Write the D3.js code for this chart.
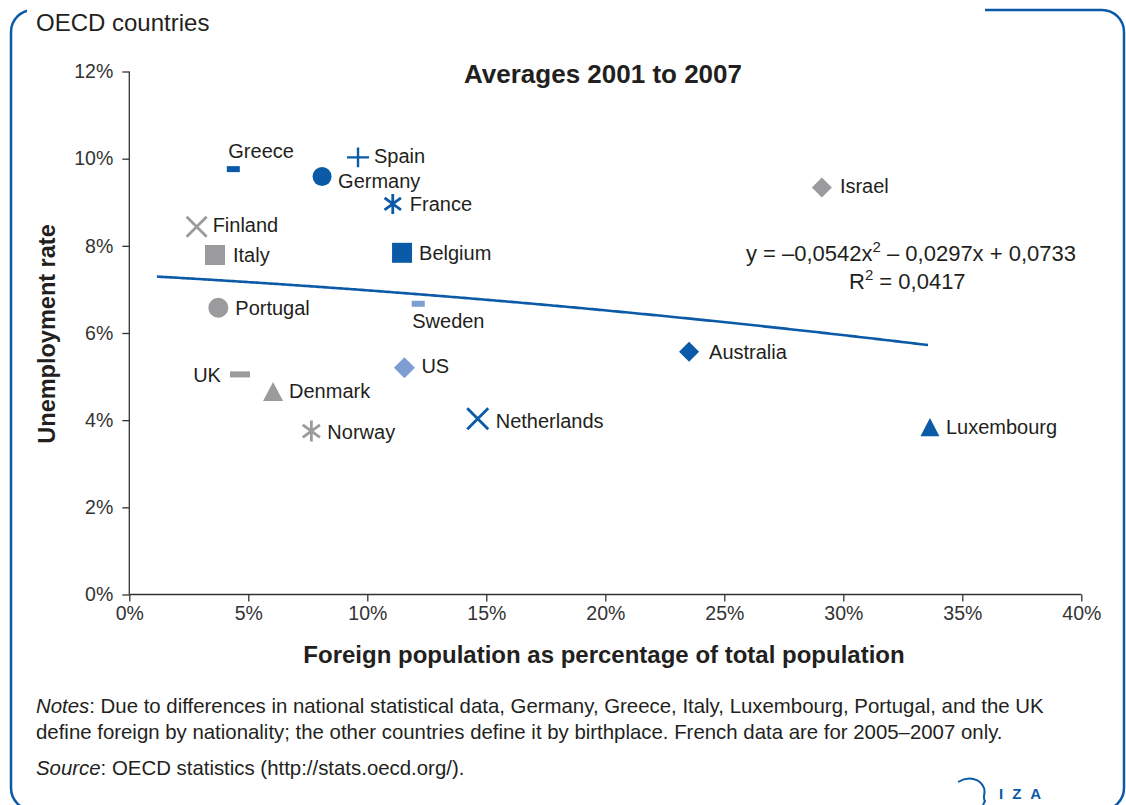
<!DOCTYPE html>
<html><head><meta charset="utf-8">
<script src="https://cdn.jsdelivr.net/npm/d3@7"></script>
<style>
html,body{margin:0;padding:0;background:#fff;}
svg text{font-family:"Liberation Sans",Arial,sans-serif;}
</style></head>
<body>
<svg id="chart" width="1126" height="805"></svg>
<script>
// ---------------- DATA ----------------
const countries = ["Greece","Spain","Germany","France","Finland","Italy","Belgium","Portugal","Sweden","UK","Denmark","US","Norway","Netherlands","Australia","Israel","Luxembourg"];
const foreignPct = [4.37, 9.61, 8.10, 11.07, 2.83, 3.60, 11.46, 3.74, 12.14, 4.65, 6.04, 11.56, 7.65, 14.64, 23.52, 29.10, 33.64];
const unemploymentPct = [9.76, 10.03, 9.59, 8.96, 8.44, 7.79, 7.84, 6.58, 6.67, 5.05, 4.66, 5.20, 3.75, 4.03, 5.57, 9.34, 3.84];
const xTickValues = [0, 5, 10, 15, 20, 25, 30, 35, 40];
const yTickValues = [0, 2, 4, 6, 8, 10, 12];
// polynomial trend (as printed on chart): y = a x^2 + b x + c (fractions)
const trendCoef = [-0.0542, -0.0297, 0.0733];
const trendRange = [1.16, 33.64];
const equationText = ["y = \u20130,0542x", "2", " \u2013 0,0297x + 0,0733"];
const r2Text = ["R", "2", " = 0,0417"];

// ---------------- STYLES ----------------
const BLUE = "#0a5aa8", GRAY = "#9b9b9d", LBLUE = "#7e9dd2", TXT = "#231f20";
const markerStyle = {
  Greece:{shape:"bar",color:BLUE,w:13,h:6},
  Spain:{shape:"plus",color:BLUE,s:11},
  Germany:{shape:"circle",color:BLUE,r:9.5},
  France:{shape:"asterisk",color:BLUE,s:10},
  Finland:{shape:"x",color:GRAY,s:10},
  Italy:{shape:"square",color:GRAY,s:20},
  Belgium:{shape:"square",color:BLUE,s:20},
  Portugal:{shape:"circle",color:GRAY,r:10},
  Sweden:{shape:"bar",color:LBLUE,w:13,h:6},
  UK:{shape:"bar",color:GRAY,w:20,h:6},
  Denmark:{shape:"triangle",color:GRAY,w:20},
  US:{shape:"diamond",color:LBLUE,s:10.5},
  Norway:{shape:"asterisk",color:GRAY,s:10.5},
  Netherlands:{shape:"x",color:BLUE,s:10.5},
  Australia:{shape:"diamond",color:BLUE,s:10},
  Israel:{shape:"diamond",color:GRAY,s:10},
  Luxembourg:{shape:"triangle",color:BLUE,w:19}
};
// label offsets relative to marker centre [dx, dy(center), anchor]
const labelPos = {
  Greece:[-5,-18,"start"], Spain:[16,-1,"start"], Germany:[16,4,"start"], France:[17,0,"start"],
  Finland:[16,-2,"start"], Italy:[18,0,"start"], Belgium:[17,0,"start"], Portugal:[17,0,"start"],
  Sweden:[-6,17,"start"], UK:[-19,1,"end"], Denmark:[16,0,"start"], US:[17,-2,"start"],
  Norway:[16,1,"start"], Netherlands:[18,2,"start"], Australia:[20,0,"start"], Israel:[18,-1,"start"],
  Luxembourg:[16,0,"start"]
};

function markerPath(st){
  switch(st.shape){
    case "bar": return `M${-st.w/2},${-st.h/2}h${st.w}v${st.h}h${-st.w}Z`;
    case "square": return `M${-st.s/2},${-st.s/2}h${st.s}v${st.s}h${-st.s}Z`;
    case "circle": { const r=st.r; return `M${r},0A${r},${r} 0 1,1 ${-r},0A${r},${r} 0 1,1 ${r},0Z`; }
    case "triangle": { const w=st.w, h=w*0.95; return `M0,${-h/2}L${w/2},${h/2}L${-w/2},${h/2}Z`; }
    case "diamond": { const s=st.s; return `M0,${-s}L${s},0L0,${s}L${-s},0Z`; }
    case "plus": { const s=st.s; return `M${-s},0H${s}M0,${-s*0.9}V${s*0.9}`; }
    case "x": { const s=st.s; return `M${-s},${-s}L${s},${s}M${-s},${s}L${s},${-s}`; }
    case "asterisk": { const s=st.s, d=s*0.82; return `M0,${-s}V${s}M${-d},${-s*0.6}L${d},${s*0.6}M${-d},${s*0.6}L${d},${-s*0.6}`; }
  }
}
const filled = sh => ["bar","square","circle","triangle","diamond"].includes(sh);

// ---------------- DRAW ----------------
const svg = d3.select("#chart");
const x = d3.scaleLinear().domain([0,40]).range([129.3,1081.3]);
const y = d3.scaleLinear().domain([0,12]).range([594.5,71.5]);

// frame
svg.append("rect").attr("x",11).attr("y",10).attr("width",1113).attr("height",800)
  .attr("rx",22).attr("ry",22).attr("fill","none").attr("stroke",BLUE).attr("stroke-width",2.5);
svg.append("rect").attr("x",27).attr("y",0).attr("width",958).attr("height",20).attr("fill","#fff");
svg.append("text").attr("x",36).attr("y",31).attr("font-size",24).attr("fill",TXT).text("OECD countries");

// logo
const logo = svg.append("g");
logo.append("path").attr("d","M958,782 C968,776 980,778 984,788 C986,794 982,797 985,801 L983,805")
  .attr("fill","none").attr("stroke",BLUE).attr("stroke-width",2);
logo.append("text").attr("x",999).attr("y",799).attr("font-size",15).attr("font-weight","bold")
  .attr("fill",BLUE).attr("letter-spacing",9).text("IZA");

// axes
const gx = svg.append("g").attr("transform",`translate(0,${y(0)})`)
  .call(d3.axisBottom(x).tickValues(xTickValues).tickSize(7).tickSizeOuter(0).tickPadding(5).tickFormat(d=>d+"%"));
const gy = svg.append("g").attr("transform",`translate(${x(0)},0)`)
  .call(d3.axisLeft(y).tickValues(yTickValues).tickSize(7).tickSizeOuter(0).tickPadding(9).tickFormat(d=>d+"%"));
[gx,gy].forEach(g=>{
  g.select(".domain").attr("stroke","#333").attr("stroke-width",1.3);
  g.selectAll(".tick line").attr("stroke","#333").attr("stroke-width",1.3);
  g.selectAll(".tick text").attr("font-size",19.5).attr("fill","#333")
    .attr("font-family","'Liberation Sans',Arial,sans-serif");
});
gx.select(".domain").attr("d",`M${x(0)},0H${x(40)}`);
gy.select(".domain").attr("d",`M0,${y(0)}V${y(12)}`);

// titles
svg.append("text").attr("x",603).attr("y",83).attr("text-anchor","middle").attr("font-size",26)
  .attr("font-weight","bold").attr("fill",TXT).text("Averages 2001 to 2007");
svg.append("text").attr("x",604).attr("y",663).attr("text-anchor","middle").attr("font-size",24)
  .attr("font-weight","bold").attr("fill",TXT).text("Foreign population as percentage of total population");
svg.append("text").attr("transform","translate(55,334) rotate(-90)").attr("text-anchor","middle")
  .attr("font-size",23.5).attr("font-weight","bold").attr("fill",TXT).text("Unemployment rate");

// trend line
const trendPts = d3.range(trendRange[0], trendRange[1]+0.001, 0.1).map(v=>{
  const f=v/100; return [v, 100*(trendCoef[0]*f*f + trendCoef[1]*f + trendCoef[2])];
});
svg.append("path").datum(trendPts)
  .attr("d", d3.line().x(d=>x(d[0])).y(d=>y(d[1])))
  .attr("fill","none").attr("stroke",BLUE).attr("stroke-width",2.6);

// equation
const eq = svg.append("text").attr("x",1076).attr("y",261).attr("text-anchor","end").attr("font-size",22).attr("fill",TXT);
eq.append("tspan").text(equationText[0]);
eq.append("tspan").attr("font-size",15).attr("dy",-9).text(equationText[1]);
eq.append("tspan").attr("dy",9).text(equationText[2]);
const r2 = svg.append("text").attr("x",849).attr("y",289).attr("font-size",22).attr("fill",TXT);
r2.append("tspan").text(r2Text[0]);
r2.append("tspan").attr("font-size",15).attr("dy",-9).text(r2Text[1]);
r2.append("tspan").attr("dy",9).text(r2Text[2]);

// points
const pts = countries.map((c,i)=>({name:c, fx:foreignPct[i], uy:unemploymentPct[i]}));
const g = svg.append("g");
pts.forEach(p=>{
  const st = markerStyle[p.name];
  const px = x(p.fx), py = y(p.uy);
  g.append("path").attr("transform",`translate(${px},${py})`).attr("d",markerPath(st))
    .attr("fill", filled(st.shape)?st.color:"none")
    .attr("stroke", filled(st.shape)?"none":st.color)
    .attr("stroke-width", st.shape==="plus"?2.4:2.8);
  const lp = labelPos[p.name];
  g.append("text").attr("x",px+lp[0]).attr("y",py+lp[1]).attr("dy","0.35em")
    .attr("text-anchor",lp[2]).attr("font-size",20).attr("fill",TXT).text(p.name);
});

// notes
const n1 = svg.append("text").attr("x",36).attr("y",713).attr("font-size",20.4).attr("fill",TXT);
n1.append("tspan").attr("font-style","italic").text("Notes");
n1.append("tspan").text(": Due to differences in national statistical data, Germany, Greece, Italy, Luxembourg, Portugal, and the UK");
svg.append("text").attr("x",36).attr("y",739).attr("font-size",20.4).attr("fill",TXT)
  .text("define foreign by nationality; the other countries define it by birthplace. French data are for 2005\u20132007 only.");
const s1 = svg.append("text").attr("x",36).attr("y",775).attr("font-size",20.4).attr("fill",TXT);
s1.append("tspan").attr("font-style","italic").text("Source");
s1.append("tspan").text(": OECD statistics (http://stats.oecd.org/).");
</script>
</body></html>
